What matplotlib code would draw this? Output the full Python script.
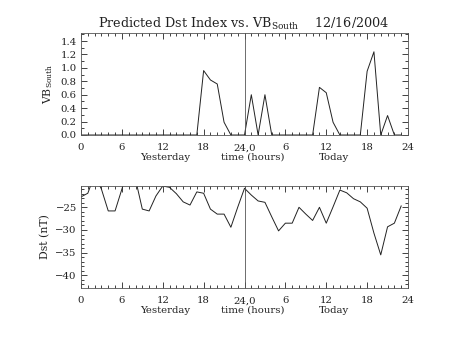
import numpy as np
import matplotlib
matplotlib.use("Agg")
import matplotlib.pyplot as plt
from matplotlib.ticker import MultipleLocator

plt.rcParams['font.family'] = 'DejaVu Serif'
plt.rcParams['mathtext.fontset'] = 'dejavuserif'

# hours since start of yesterday (0..47)
hours = np.arange(48)

# VB south (hourly)
vb_south = [0, 0, 0, 0, 0, 0, 0, 0, 0, 0, 0, 0,
            0, 0, 0, 0, 0, 0, 0.96, 0.82, 0.76, 0.19, 0, 0,
            0, 0.60, 0, 0.60, 0, 0, 0, 0, 0, 0, 0, 0.71,
            0.63, 0.19, 0, 0, 0, 0, 0.95, 1.24, 0, 0.29, 0, 0]

# predicted Dst (nT, hourly)
dst = [-22.7, -21.9, -17.8, -21.0, -25.8, -25.8, -21.0, -16.0, -18.8, -25.4, -25.8, -22.5,
       -20.3, -20.6, -22.0, -23.8, -24.5, -21.6, -21.9, -25.4, -26.5, -26.5, -29.4, -25.0,
       -20.8, -22.3, -23.6, -23.9, -27.1, -30.2, -28.5, -28.5, -25.0, -26.5, -27.9, -25.0,
       -28.5, -24.9, -21.2, -21.8, -23.1, -23.8, -25.2, -30.7, -35.5, -29.3, -28.5, -24.7]

xtick_pos = [0, 6, 12, 18, 24, 30, 36, 42, 48]
xtick_labels = ['0', '6', '12', '18', '24,0', '6', '12', '18', '24']

W, H = 453, 340
fig = plt.figure(figsize=(W / 100, H / 100), dpi=100)

ink = '#222222'
fs = 7.3


def style_axis(ax):
    ax.set_xlim(0, 48)
    ax.set_xticks(xtick_pos)
    ax.set_xticklabels(xtick_labels)
    ax.xaxis.set_minor_locator(MultipleLocator(1))
    ax.tick_params(which='both', direction='in', top=True, right=True,
                   colors=ink, labelsize=fs, width=0.6)
    ax.tick_params(which='major', length=4)
    ax.tick_params(which='minor', length=2)
    ax.tick_params(axis='x', pad=6)
    ax.tick_params(axis='y', pad=3)
    for sp in ax.spines.values():
        sp.set_linewidth(0.6)
        sp.set_color('#555555')
    ax.axvline(24, color='#555555', lw=0.6)
    ax.text(0.258, -0.22, 'Yesterday', transform=ax.transAxes,
            ha='center', va='center', fontsize=fs, color=ink)
    ax.text(0.525, -0.22, 'time (hours)', transform=ax.transAxes,
            ha='center', va='center', fontsize=fs, color=ink)
    ax.text(0.775, -0.22, 'Today', transform=ax.transAxes,
            ha='center', va='center', fontsize=fs, color=ink)


# top panel: VB south
ax1 = fig.add_axes([81 / W, 1 - 135 / H, 327 / W, 102 / H])
ax1.plot(hours, vb_south, color=ink, lw=0.7)
ax1.set_ylim(0, 1.52)
ax1.yaxis.set_major_locator(MultipleLocator(0.2))
ax1.yaxis.set_minor_locator(MultipleLocator(0.1))
ax1.yaxis.set_major_formatter(lambda v, p: f'{v:.1f}')
style_axis(ax1)
ax1.set_ylabel('VB$_{\\mathrm{South}}$', fontsize=fs + 0.5, color=ink, labelpad=4)

# bottom panel: Dst
ax2 = fig.add_axes([81 / W, 1 - 288 / H, 327 / W, 102 / H])
ax2.plot(hours, dst, color=ink, lw=0.7)
ax2.set_ylim(-42.8, -20.3)
ax2.yaxis.set_major_locator(MultipleLocator(5))
ax2.yaxis.set_minor_locator(MultipleLocator(1))
ax2.yaxis.set_major_formatter(lambda v, p: f'\u2212{abs(int(round(v)))}')
style_axis(ax2)
ax2.set_ylabel('Dst (nT)', fontsize=fs + 0.5, color=ink, labelpad=4)

fig.text(98 / W, 1 - 24 / H,
         'Predicted Dst Index vs. VB$_{\\mathrm{South}}$    12/16/2004',
         ha='left', va='center', fontsize=9.2, color=ink)

fig.savefig('out.png', dpi=100)
